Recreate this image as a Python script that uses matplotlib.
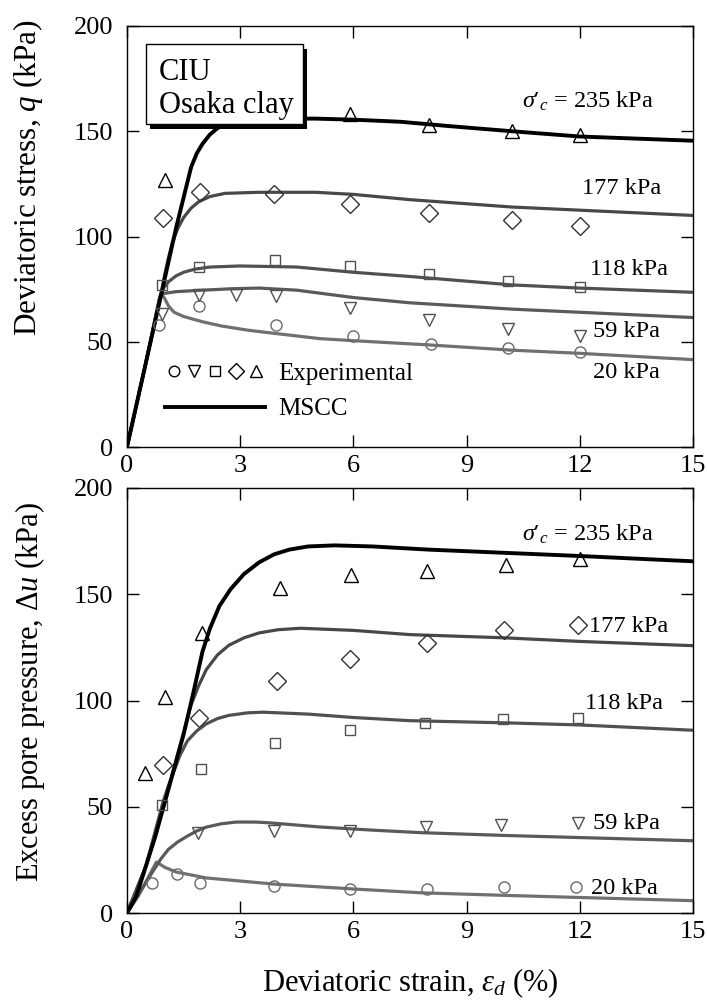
import matplotlib
matplotlib.use("Agg")
import matplotlib.pyplot as plt
from matplotlib.lines import Line2D
from matplotlib.patches import Rectangle
from matplotlib.legend_handler import HandlerTuple
import matplotlib.patheffects as pe

plt.rcParams['font.family'] = ['Liberation Serif', 'DejaVu Serif']
plt.rcParams['mathtext.fontset'] = 'custom'
plt.rcParams['mathtext.rm'] = 'Liberation Serif'
plt.rcParams['mathtext.it'] = 'Liberation Serif:italic'
plt.rcParams['mathtext.bf'] = 'Liberation Serif:bold'

# ---------------- data: deviatoric stress q (top panel) ----------------
pressures = ["20", "59", "118", "177", "235"]

# experimental points
q_exp_x_20 = [0.85, 1.9, 3.95, 6.0, 8.05, 10.1, 12.0]
q_exp_y_20 = [58, 67, 58, 52.5, 49, 47, 45]
q_exp_x_59 = [0.93, 1.9, 2.9, 3.95, 5.9, 8.0, 10.1, 12.0]
q_exp_y_59 = [63, 72, 72, 71.5, 66, 60.5, 56, 52.5]
q_exp_x_118 = [0.93, 1.9, 3.93, 5.9, 8.0, 10.1, 12.0]
q_exp_y_118 = [77, 85.5, 89, 86, 82, 79, 76]
q_exp_x_177 = [0.96, 1.94, 3.9, 5.9, 8.0, 10.2, 12.0]
q_exp_y_177 = [109, 121, 120, 115.5, 111, 108, 105]
q_exp_x_235 = [1.0, 5.9, 8.0, 10.2, 12.0]
q_exp_y_235 = [127, 158, 153, 150, 148]

# MSCC model curves
q_mod_x_20 = [0, 0.5, 0.9, 1.0, 1.1, 1.25, 1.5, 2.0, 2.5, 3.2, 3.9, 5.1, 6.0, 8.0, 10.2, 12.0, 15.0]
q_mod_y_20 = [0, 40, 73, 70.5, 67, 64, 62, 59.5, 57.5, 55.5, 54, 51.5, 50.5, 48.5, 46, 44.5, 41.5]
q_mod_x_59 = [0, 0.5, 0.88, 1.0, 1.3, 2.0, 2.8, 3.5, 4.5, 6.0, 7.5, 10.2, 12.0, 15.0]
q_mod_y_59 = [0, 40, 72, 73, 73.8, 74.5, 75.2, 75.5, 74.5, 71, 68.5, 65.5, 64, 61.5]
q_mod_x_118 = [0, 0.5, 0.85, 0.95, 1.1, 1.3, 1.5, 1.8, 2.2, 3.0, 4.5, 6.0, 7.5, 10.2, 12.0, 15.0]
q_mod_y_118 = [0, 40, 70, 75, 78.5, 81.3, 83, 84.5, 85.5, 86, 85.5, 83, 81, 77, 75.5, 73.5]
q_mod_x_177 = [0, 0.5, 0.9, 1.0, 1.1, 1.2, 1.35, 1.5, 1.7, 1.9, 2.2, 2.6, 3.5, 5.0, 6.0, 7.5, 10.2, 12.0, 15.0]
q_mod_y_177 = [0, 40, 72, 82, 90, 97, 104, 109, 113.5, 116.5, 119, 120.5, 121, 121, 120, 117.5, 114, 112.5, 110]
q_mod_x_235 = [0, 0.5, 0.9, 1.3, 1.7, 1.85, 2.0, 2.2, 2.4, 2.7, 3.0, 3.5, 4.0, 5.0, 6.0, 7.25, 8.5, 10.2, 12.0, 15.0]
q_mod_y_235 = [0, 40, 72, 104, 133, 139.5, 144, 148.5, 151.5, 154, 155.3, 156, 156, 156, 155.5, 154.5, 152.5, 150, 147.5, 145.5]

# ---------------- data: excess pore pressure du (bottom panel) ----------------
u_exp_x_20 = [0.66, 1.33, 1.94, 3.9, 5.9, 7.95, 10.0, 11.9]
u_exp_y_20 = [14, 18.4, 14, 12.7, 11.5, 11.3, 12.2, 12.2]
u_exp_x_59 = [1.88, 3.9, 5.9, 7.93, 9.92, 11.94]
u_exp_y_59 = [37.6, 38.6, 38.6, 40.5, 41.4, 42.4]
u_exp_x_118 = [0.93, 1.96, 3.93, 5.9, 7.9, 9.97, 11.94]
u_exp_y_118 = [51, 67.8, 80, 86, 89.4, 91.3, 91.8]
u_exp_x_177 = [0.96, 1.91, 3.98, 5.92, 7.96, 10.0, 11.96]
u_exp_y_177 = [69.6, 92, 109, 119.5, 127, 133, 135.5]
u_exp_x_235 = [0.48, 1.0, 1.98, 4.06, 5.94, 7.96, 10.05, 12.0]
u_exp_y_235 = [66, 101.6, 132, 153, 159, 161, 163.8, 166.6]

u_mod_x_20 = [0, 0.3, 0.6, 0.78, 1.0, 1.3, 2.1, 3.9, 6.0, 7.8, 10.0, 12.0, 15.0]
u_mod_y_20 = [0, 8, 18, 24, 21.5, 19.3, 16.5, 13.6, 11.3, 9.5, 8.3, 7.3, 5.8]
u_mod_x_59 = [0, 0.35, 0.7, 0.9, 1.1, 1.35, 1.6, 1.85, 2.1, 2.5, 2.9, 3.4, 3.8, 5.1, 6.5, 7.8, 10.0, 12.0, 15.0]
u_mod_y_59 = [0, 10, 20, 25.5, 30, 33.5, 36.2, 38.6, 40.4, 42, 42.8, 42.8, 42.4, 40.5, 39, 37.8, 36.5, 35.5, 34]
u_mod_x_118 = [0, 0.5, 0.95, 1.1, 1.25, 1.4, 1.6, 1.85, 2.1, 2.4, 2.7, 3.2, 3.6, 4.8, 6.0, 7.5, 10.0, 12.0, 15.0]
u_mod_y_118 = [0, 22, 52, 60, 67, 74, 81, 85.7, 89, 91.5, 93, 94.2, 94.5, 93.6, 92, 90.5, 89.5, 88.5, 86]
u_mod_x_177 = [0, 0.5, 1.0, 1.3, 1.5, 1.7, 1.9, 2.1, 2.4, 2.7, 3.1, 3.5, 4.0, 4.6, 6.0, 7.5, 10.0, 12.0, 15.0]
u_mod_y_177 = [0, 22, 52, 72, 85, 98, 107, 114.5, 121.5, 126, 129.5, 131.8, 133.3, 134, 133, 131, 129.5, 127.8, 125.8]
u_mod_x_235 = [0, 0.25, 0.5, 0.75, 1.0, 1.25, 1.5, 1.75, 2.0, 2.2, 2.45, 2.75, 3.1, 3.5, 3.9, 4.3, 4.8, 5.5, 6.5, 8.0, 10.0, 12.0, 15.0]
u_mod_y_235 = [0, 8, 22, 36, 52, 68, 84, 103, 123, 134, 144.5, 152.5, 159.5, 165, 168.8, 171, 172.5, 173, 172.5, 171, 169.5, 168, 165.5]

x_ticks = [0, 3, 6, 9, 12, 15]
y_ticks = [0, 50, 100, 150, 200]

# ---------------- styles ----------------
line_colors = {"20": "#707070", "59": "#5a5a5a", "118": "#505050", "177": "#484848", "235": "#000000"}
line_widths = {"20": 2.3, "59": 2.3, "118": 2.3, "177": 2.3, "235": 2.8}
mk_style = {
    "20": dict(marker="o", ms=8.0, color="#6a6a6a"),
    "59": dict(marker="v", ms=8.5, color="#505050"),
    "118": dict(marker="s", ms=7.5, color="#505050"),
    "177": dict(marker="D", ms=9.0, color="#333333"),
    "235": dict(marker="^", ms=9.5, color="#000000"),
}

q_exp = {"20": (q_exp_x_20, q_exp_y_20), "59": (q_exp_x_59, q_exp_y_59),
         "118": (q_exp_x_118, q_exp_y_118), "177": (q_exp_x_177, q_exp_y_177),
         "235": (q_exp_x_235, q_exp_y_235)}
q_mod = {"20": (q_mod_x_20, q_mod_y_20), "59": (q_mod_x_59, q_mod_y_59),
         "118": (q_mod_x_118, q_mod_y_118), "177": (q_mod_x_177, q_mod_y_177),
         "235": (q_mod_x_235, q_mod_y_235)}
u_exp = {"20": (u_exp_x_20, u_exp_y_20), "59": (u_exp_x_59, u_exp_y_59),
         "118": (u_exp_x_118, u_exp_y_118), "177": (u_exp_x_177, u_exp_y_177),
         "235": (u_exp_x_235, u_exp_y_235)}
u_mod = {"20": (u_mod_x_20, u_mod_y_20), "59": (u_mod_x_59, u_mod_y_59),
         "118": (u_mod_x_118, u_mod_y_118), "177": (u_mod_x_177, u_mod_y_177),
         "235": (u_mod_x_235, u_mod_y_235)}

fig = plt.figure(figsize=(7.07, 10.0), dpi=100)
W, H = 707.0, 1000.0
ax1 = fig.add_axes([127 / W, 1 - 447 / H, 566 / W, 421 / H])
ax2 = fig.add_axes([127 / W, 1 - 913 / H, 566 / W, 425 / H])


def draw(ax, mod, exp):
    for p in pressures:
        xs, ys = mod[p]
        ax.plot(xs, ys, color=line_colors[p], lw=line_widths[p],
                solid_joinstyle="round", solid_capstyle="round", zorder=2)
    for p in pressures:
        xs, ys = exp[p]
        st = mk_style[p]
        ax.plot(xs, ys, linestyle="none", marker=st["marker"], ms=st["ms"],
                mfc="none", mec=st["color"], mew=1.0, zorder=3, clip_on=False)
    ax.set_xlim(0, 15)
    ax.set_ylim(0, 200)
    ax.set_xticks(x_ticks)
    ax.set_yticks(y_ticks)
    ax.tick_params(direction="in", length=8.5, width=1.0, top=True, right=True,
                   labelsize=19)
    ax.tick_params(axis="y", pad=10)
    ax.tick_params(axis="x", pad=6)
    for s in ax.spines.values():
        s.set_linewidth(1.0)


draw(ax1, q_mod, q_exp)
draw(ax2, u_mod, u_exp)

# axis labels
ax1.set_ylabel(r"Deviatoric stress, $q$ (kPa)", fontsize=22.5)
ax1.yaxis.label.set_va("center")
ax1.yaxis.set_label_coords(-0.175, 0.639)
ax2.set_ylabel(r"Excess pore pressure, $\Delta u$ (kPa)", fontsize=22)
ax2.yaxis.label.set_va("center")
ax2.yaxis.set_label_coords(-0.172, 0.52)
ax2.set_xlabel(r"Deviatoric strain, $\varepsilon_d$ (%)", fontsize=22)
ax2.xaxis.label.set_va("center")
ax2.xaxis.set_label_coords(0.5, -0.165)

# curve annotations
fs_ann = 17.5
sig_lbl = "$\\sigma$\u2032$_{c}$ = 235 kPa"
ax1.text(10.48, 164, sig_lbl, fontsize=fs_ann, va="center", ha="left")
ax1.text(12.07, 122.7, "177 kPa", fontsize=fs_ann, va="center", ha="left")
ax1.text(12.28, 84.5, "118 kPa", fontsize=fs_ann, va="center", ha="left")
ax1.text(12.36, 55, "59 kPa", fontsize=fs_ann, va="center", ha="left")
ax1.text(12.36, 35.3, "20 kPa", fontsize=fs_ann, va="center", ha="left")

ax2.text(10.48, 178, sig_lbl, fontsize=fs_ann, va="center", ha="left")
ax2.text(12.25, 135, "177 kPa", fontsize=fs_ann, va="center", ha="left")
ax2.text(12.15, 98.8, "118 kPa", fontsize=fs_ann, va="center", ha="left")
ax2.text(12.36, 42.3, "59 kPa", fontsize=fs_ann, va="center", ha="left")
ax2.text(12.3, 11.3, "20 kPa", fontsize=fs_ann, va="center", ha="left")

# title box with drop shadow
box = Rectangle((19 / 566, 323 / 421), 157 / 566, 80 / 421, transform=ax1.transAxes,
                fc="white", ec="black", lw=1.0, zorder=4)
box.set_path_effects([pe.withSimplePatchShadow(offset=(3, -3.3), shadow_rgbFace="black", alpha=1.0)])
ax1.add_patch(box)
ax1.text(32 / 566, (447 - 89) / 421, "CIU\nOsaka clay", transform=ax1.transAxes,
         fontsize=22, va="center", ha="left", linespacing=1.16, zorder=5)

# legend
leg_markers = tuple(
    Line2D([], [], linestyle="none", marker=mk_style[p]["marker"],
           ms=mk_style[p]["ms"] * 0.95, mfc="none", mec="black", mew=1.0)
    for p in pressures)
leg_line = Line2D([], [], color="black", lw=2.8)
ax1.legend([leg_markers, leg_line], ["Experimental", "MSCC"],
           handler_map={tuple: HandlerTuple(ndivide=None, pad=0.13)},
           loc="upper left", bbox_to_anchor=(0.067, 0.2015), frameon=False,
           borderpad=0, borderaxespad=0, handlelength=4.0, handletextpad=0.55,
           labelspacing=0.53, fontsize=18)

fig.savefig("out.png", dpi=100)
